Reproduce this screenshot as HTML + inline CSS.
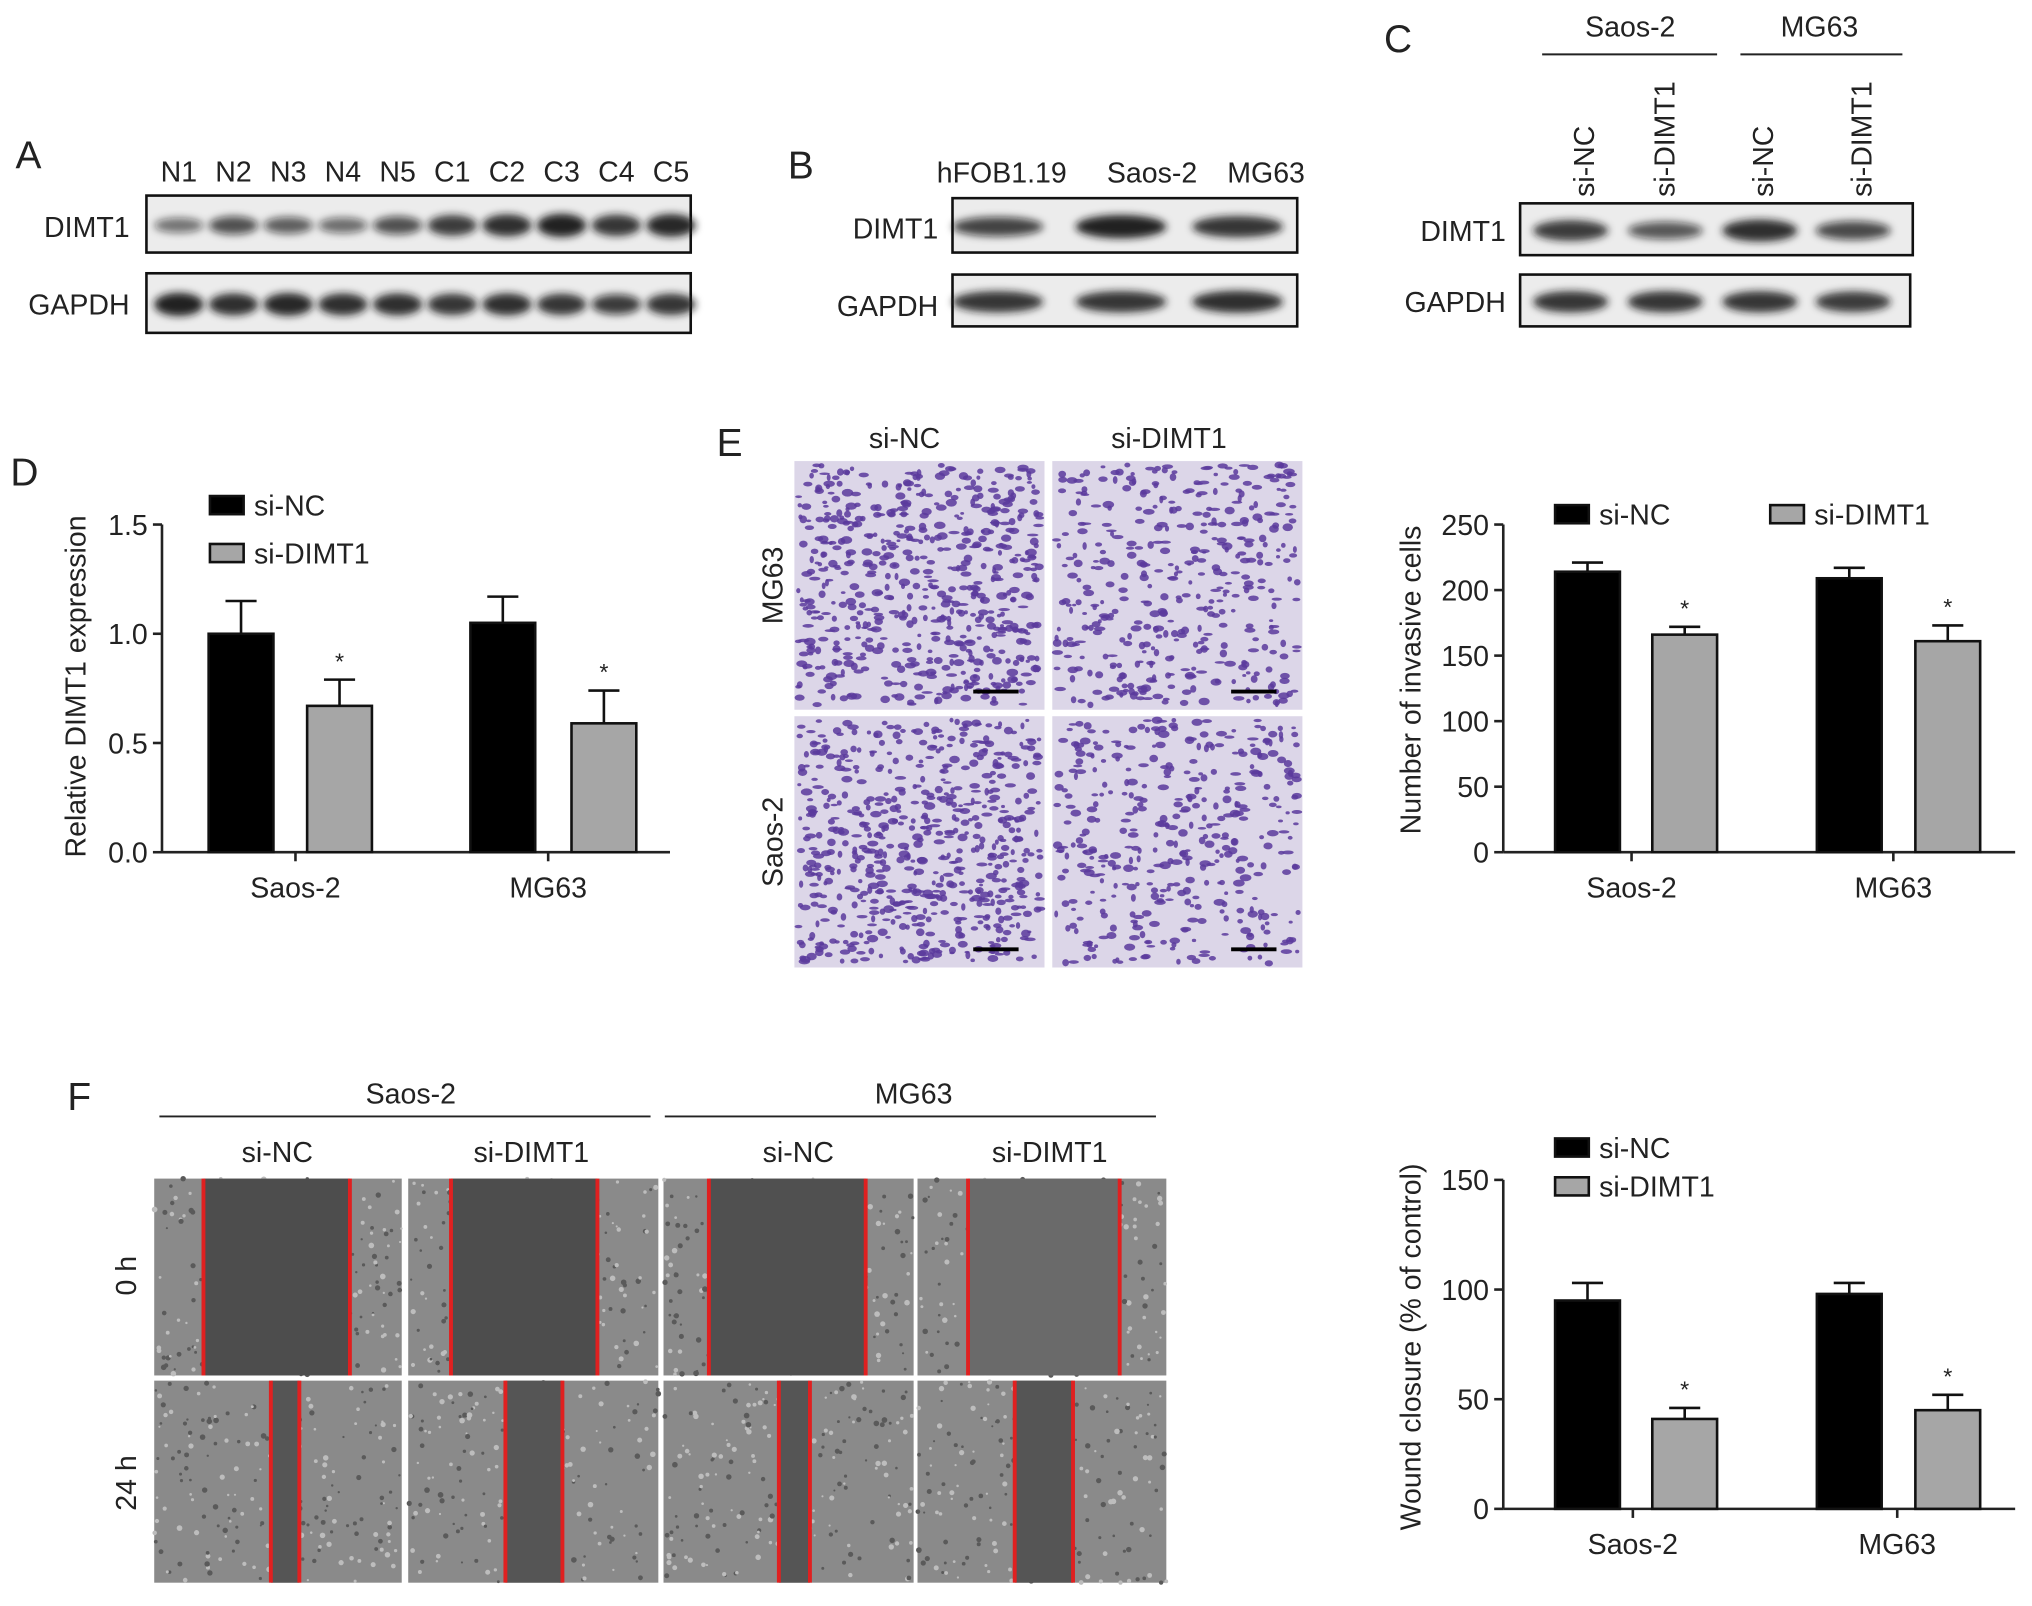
<!DOCTYPE html>
<html><head><meta charset="utf-8"><style>
html,body{margin:0;padding:0;background:#fff}
svg{display:block}
text{font-family:"Liberation Sans",Arial,sans-serif;fill:#222}
</style></head><body>
<svg id="fig" width="2032" height="1606" viewBox="0 0 1568 1240" preserveAspectRatio="none" xmlns="http://www.w3.org/2000/svg">
<defs>
<filter id="blur" x="-20%" y="-50%" width="140%" height="200%"><feGaussianBlur stdDeviation="3"/></filter>
</defs>
<g id="root"></g>
</svg>
<script>
// ---------- data ----------
const blotALanes = ["N1","N2","N3","N4","N5","C1","C2","C3","C4","C5"];
const blotADimt = [0.35,0.6,0.5,0.4,0.6,0.8,0.9,1.0,0.85,0.95];
const blotAGapdh = [1.0,0.9,0.95,0.9,0.9,0.85,0.9,0.85,0.75,0.85];
const blotBLanes = ["hFOB1.19","Saos-2","MG63"];
const blotBDimt = [0.7,1.0,0.85];
const blotBGapdh = [0.85,0.85,0.9];
const blotCLanes = ["si-NC","si-DIMT1","si-NC","si-DIMT1"];
const blotCDimt = [0.8,0.55,0.9,0.65];
const blotCGapdh = [0.85,0.85,0.85,0.8];

const groups = ["Saos-2","MG63"];
const seriesNames = ["si-NC","si-DIMT1"];
const dNC = [1.0,1.05], dNCerr = [0.15,0.12];
const dSi = [0.67,0.59], dSiErr = [0.12,0.15];
const dTicks = [0,0.5,1.0,1.5], dTickLabels = ["0.0","0.5","1.0","1.5"];
const eNC = [214,209], eNCerr = [7,8];
const eSi = [166,161], eSiErr = [6,12];
const eTicks = [0,50,100,150,200,250];
const fNC = [95,98], fNCerr = [8,5];
const fSi = [41,45], fSiErr = [5,7];
const fTicks = [0,50,100,150];

// ---------- helpers ----------
const NS="http://www.w3.org/2000/svg";
const root=document.getElementById('root');
function el(tag,attrs,parent){const e=document.createElementNS(NS,tag);for(const k in attrs)e.setAttribute(k,attrs[k]);(parent||root).appendChild(e);return e;}
function txt(s,x,y,size,anchor,parent,rot){const t=el('text',{x:x,y:y,'font-size':size,'text-anchor':anchor||'start'},parent);if(rot)t.setAttribute('transform',`rotate(-90 ${x} ${y})`);t.textContent=s;return t;}
let seed=7;function rnd(){seed=(seed*16807)%2147483647;return seed/2147483647;}

function letter(s,x,y){const t=txt(s,x,y,30,'start');

}

function blot(name,x0,y0,w,h,vals,lanesX,bw){
  const g=el('g',{});
  
  
  el('rect',{x:x0,y:y0,width:w,height:h,fill:'#ececec',stroke:'#111','stroke-width':2},g);
  vals.forEach((v,i)=>{
    const b=el('ellipse',{cx:lanesX[i],cy:y0+h/2+1,rx:bw/2,ry:4+5*v,fill:`rgba(20,20,20,${0.35+0.6*v})`,filter:'url(#blur)'},g);
    
    
  });
}

// ---------- Panel A ----------
letter('A',12,130);
const aX=blotALanes.map((_,i)=>138+i*42.2);
blotALanes.forEach((l,i)=>{const t=txt(l,aX[i],140,22,'middle');});
txt('DIMT1',100,183,22,'end');txt('GAPDH',100,243,22,'end');
blot('blot-a-dimt1',113,151,420,44,blotADimt,aX,38);
blot('blot-a-gapdh',113,211,420,46,blotAGapdh,aX,38);

// ---------- Panel B ----------
letter('B',608,138);
txt('hFOB1.19',773,141,22,'middle');txt('Saos-2',889,141,22,'middle');txt('MG63',977,141,22,'middle');
txt('DIMT1',724,184,22,'end');txt('GAPDH',724,244,22,'end');
blot('blot-b-dimt1',735,153,266,42,blotBDimt,[770,865,955],70);
blot('blot-b-gapdh',735,212,266,40,blotBGapdh,[770,865,955],70);

// ---------- Panel C ----------
letter('C',1068,40);
txt('Saos-2',1258,28,22,'middle');el('line',{x1:1190,y1:42,x2:1325,y2:42,stroke:'#222','stroke-width':1.5});
txt('MG63',1404,28,22,'middle');el('line',{x1:1343,y1:42,x2:1468,y2:42,stroke:'#222','stroke-width':1.5});
const cX=[1222,1284,1360,1436];
blotCLanes.forEach((l,i)=>{const t=txt(l,cX[i]+8,152,22,'start',null,true);});
txt('DIMT1',1162,186,22,'end');txt('GAPDH',1162,241,22,'end');
blot('blot-c-dimt1',1173,157,303,40,blotCDimt,[1212,1285,1358,1430],58);
blot('blot-c-gapdh',1173,212,301,40,blotCGapdh,[1212,1285,1358,1430],58);

// ---------- bar chart ----------
function barChart(o){
  const g=el('g',{});
  
  
  const y=v=>o.y0-(v-0)/(o.max)*(o.y0-o.y1);
  el('line',{x1:o.ax,y1:o.y1,x2:o.ax,y2:o.y0,stroke:'#222','stroke-width':2},g);
  el('line',{x1:o.ax,y1:o.y0,x2:o.xEnd,y2:o.y0,stroke:'#222','stroke-width':2},g);
  o.ticks.forEach((t,i)=>{
    el('line',{x1:o.ax-7,y1:y(t),x2:o.ax,y2:y(t),stroke:'#222','stroke-width':2},g);
    const tl=txt(o.tickLabels?o.tickLabels[i]:String(t),o.ax-11,y(t)+8,22,'end',g);
    
    
  });
  const yl=txt(o.ylabel,o.ylx,o.ylc,22,'middle',g,true);
  
  
  groups.forEach((gr,i)=>{
    const cx=o.gx[i];
    el('line',{x1:cx,y1:o.y0,x2:cx,y2:o.y0+7,stroke:'#222','stroke-width':2},g);
    const gl=txt(gr,cx,o.y0+35,22,'middle',g);
    
    
    [[o.nc,o.ncErr,'#000',o.offNC[i],false],[o.si,o.siErr,'#a6a6a6',o.offSi[i],true]].forEach(([vals,errs,fill,off,star])=>{
      const bx=cx+off, w=50;
      const top=y(vals[i]), et=y(vals[i]+errs[i]);
      el('line',{x1:bx+w/2,y1:top,x2:bx+w/2,y2:et,stroke:'#111','stroke-width':2},g);
      el('line',{x1:bx+w/2-12,y1:et,x2:bx+w/2+12,y2:et,stroke:'#111','stroke-width':2},g);
      const r=el('rect',{x:bx,y:top,width:w,height:o.y0-top,fill:fill,stroke:'#111','stroke-width':2},g);
      
      
      if(star){txt('*',bx+w/2,et-8,18,'middle',g);}
    });
  });
  o.legend.forEach((p,i)=>{
    const lg=el('g',{},g);
    
    
    el('rect',{x:p[0],y:p[1],width:26,height:14,fill:i?'#a6a6a6':'#000',stroke:'#111','stroke-width':2},lg);
    txt(seriesNames[i],p[0]+34,p[1]+15,22,'start',lg);
  });
}
letter('D',8,375);
barChart({name:'chart-d',ax:125,y0:658,y1:405,max:1.5,xEnd:517,ticks:dTicks,tickLabels:dTickLabels,ylabel:'Relative DIMT1 expression',ylx:66,ylc:530,gx:[228,423],offNC:[-67,-60],offSi:[9,18],nc:dNC,ncErr:dNCerr,si:dSi,siErr:dSiErr,legend:[[162,383],[162,420]]});
barChart({name:'chart-e',ax:1160,y0:658,y1:405,max:250,xEnd:1555,ticks:eTicks,ylabel:'Number of invasive cells',ylx:1096,ylc:525,gx:[1259,1461],offNC:[-59,-59],offSi:[16,17],nc:eNC,ncErr:eNCerr,si:eSi,siErr:eSiErr,legend:[[1200,390],[1366,390]]});
barChart({name:'chart-f',ax:1160,y0:1165,y1:911,max:150,xEnd:1555,ticks:fTicks,ylabel:'Wound closure (% of control)',ylx:1096,ylc:1040,gx:[1260,1464],offNC:[-60,-62],offSi:[15,14],nc:fNC,ncErr:fNCerr,si:fSi,siErr:fSiErr,legend:[[1200,879],[1200,909]]});

// ---------- Panel E images ----------
letter('E',553,352);
txt('si-NC',698,346,22,'middle');txt('si-DIMT1',902,346,22,'middle');
txt('MG63',604,452,22,'middle',null,true);txt('Saos-2',604,650,22,'middle',null,true);
[[613,356,193,192,600],[812,356,193,192,420],[613,553,193,194,620],[812,553,193,194,400]].forEach(([x,y,w,h,n])=>{
  const g=el('g',{});
  
  
  el('rect',{x:x,y:y,width:w,height:h,fill:'#dcd6e8'},g);
  for(let i=0;i<n;i++){el('ellipse',{cx:x+3+rnd()*(w-6),cy:y+3+rnd()*(h-6),rx:1.5+rnd()*3,ry:1+rnd()*2,fill:'#5a3a9c',opacity:0.85},g);}
  el('line',{x1:x+w-55,y1:y+h-14,x2:x+w-20,y2:y+h-14,stroke:'#000','stroke-width':3},g);
});

// ---------- Panel F images ----------
letter('F',52,857);
txt('Saos-2',317,852,22,'middle');el('line',{x1:123,y1:862,x2:502,y2:862,stroke:'#222','stroke-width':1.5});
txt('MG63',705,852,22,'middle');el('line',{x1:513,y1:862,x2:892,y2:862,stroke:'#222','stroke-width':1.5});
txt('si-NC',214,897,22,'middle');txt('si-DIMT1',410,897,22,'middle');txt('si-NC',616,897,22,'middle');txt('si-DIMT1',810,897,22,'middle');
txt('0 h',105,985,22,'middle',null,true);txt('24 h',105,1145,22,'middle',null,true);
const cols=[[119,191],[315,193],[512,193],[708,192]];
const gaps0=[[157,270],[348,461],[547,668],[747,864]];
const gaps24=[[209,231],[390,434],[601,625],[783,828]];
const gapFill0=['#4d4d4d','#4d4d4d','#505050','#6a6a6a'];
cols.forEach(([x,w],i)=>{
  [[910,152,gaps0[i],gapFill0[i]],[1066,156,gaps24[i],'#555']].forEach(([y,h,gp,gf])=>{
    const g=el('g',{});
    
    
    el('rect',{x:x,y:y,width:w,height:h,fill:'#8a8a8a'},g);
    for(let k=0;k<200;k++){el('circle',{cx:x+rnd()*w,cy:y+rnd()*h,r:0.8+rnd()*1.4,fill:rnd()<0.5?'#bdbdbd':'#5a5a5a'},g);}
    el('rect',{x:gp[0],y:y,width:gp[1]-gp[0],height:h,fill:gf},g);
    el('line',{x1:gp[0],y1:y,x2:gp[0],y2:y+h,stroke:'#e02020','stroke-width':3},g);
    el('line',{x1:gp[1],y1:y,x2:gp[1],y2:y+h,stroke:'#e02020','stroke-width':3},g);
  });
});
</script>
</body></html>
